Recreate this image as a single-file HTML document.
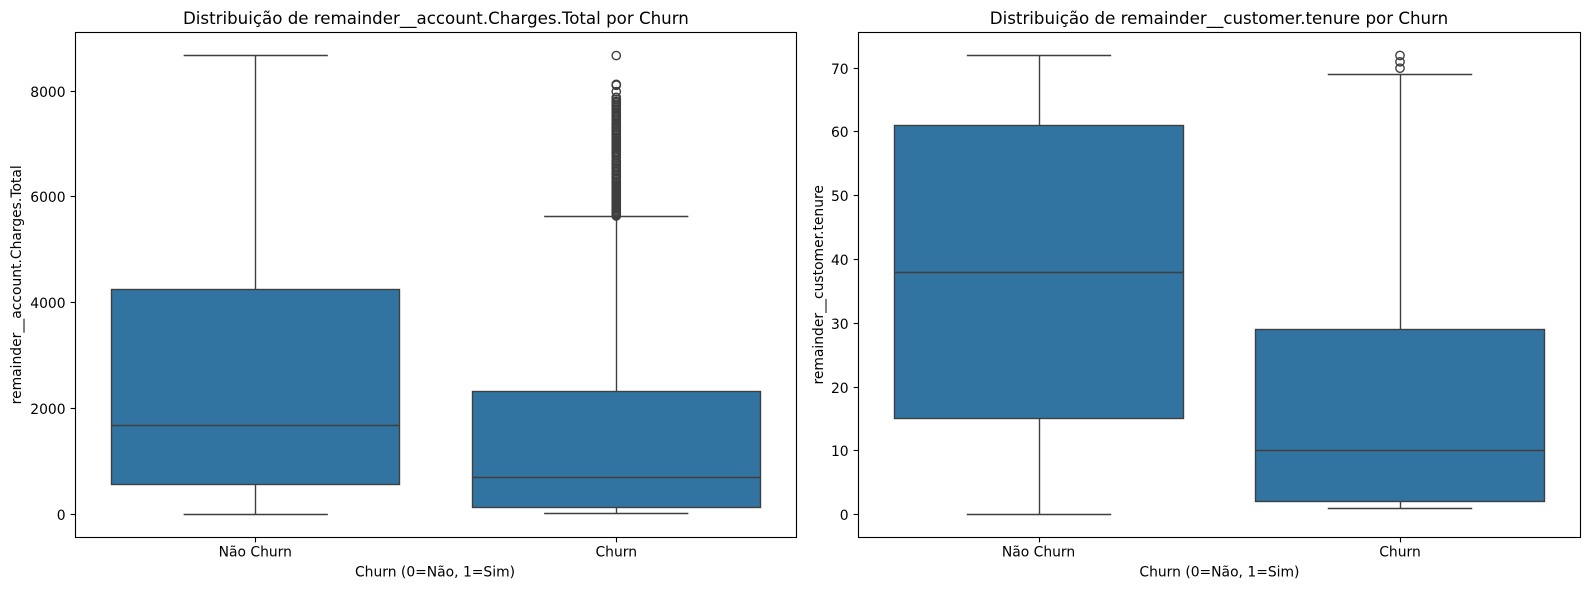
<!DOCTYPE html>
<html lang="pt">
<head>
<meta charset="utf-8">
<title>Distribuição por Churn</title>
<style>
html,body{margin:0;padding:0;background:#fff;width:1590px;height:590px;overflow:hidden}
svg{display:block}
text{font-family:"DejaVu Sans",sans-serif;fill:#000}
.tick{font-size:13.89px}
.label{font-size:13.89px}
.title{font-size:16.67px}
</style>
</head>
<body>
<svg id="figure" xmlns="http://www.w3.org/2000/svg" width="1590" height="590" viewBox="0 0 1590 590">
  <rect x="0" y="0" width="1590" height="590" fill="#fff"/>
  <g id="charges-plot"></g>
  <g id="tenure-plot"></g>
  <text class="title" x="435.9" y="24" text-anchor="middle">Distribuição de remainder__account.Charges.Total por Churn</text>
  <text class="title" x="1219" y="24" text-anchor="middle">Distribuição de remainder__customer.tenure por Churn</text>
  <text class="label" x="435" y="576.5" text-anchor="middle">Churn (0=Não, 1=Sim)</text>
  <text class="label" x="1219.4" y="576.5" text-anchor="middle">Churn (0=Não, 1=Sim)</text>
  <text class="label" transform="translate(21 284.8) rotate(-90)" text-anchor="middle">remainder__account.Charges.Total</text>
  <text class="label" transform="translate(823 284.8) rotate(-90)" text-anchor="middle">remainder__customer.tenure</text>
</svg>
<script>
const categories = ['Não Churn', 'Churn'];

const chargesTicks = [0, 2000, 4000, 6000, 8000];
const chargesDomain = [-433.6, 9105.6];
const chargesWhiskerLow = [0, 19];
const chargesQ1 = [567, 134];
const chargesMedian = [1682, 704];
const chargesQ3 = [4253, 2331];
const chargesWhiskerHigh = [8672, 5624];
const chargesFliersNoChurn = [];
const chargesFliersChurn = [
  8670, 8127, 8109, 7990, 7880, 7846, 7806, 7782, 7750, 7723, 7691, 7662, 7627, 7594, 7556, 7532,
  7502, 7470, 7444, 7413, 7382, 7355, 7330, 7299, 7268, 7241, 7212, 7179, 7154, 7118, 7089, 7061,
  7032, 7002, 6979, 6953, 6921, 6894, 6862, 6841, 6810, 6782, 6745, 6689, 6661, 6632, 6604, 6571,
  6546, 6512, 6483, 6449, 6420, 6392, 6361, 6333, 6301, 6275, 6248, 6219, 6188, 6161, 6130, 6104,
  6075, 6048, 6019, 5991, 5964, 5938, 5911, 5884, 5858, 5829, 5802, 5778, 5752, 5727, 5703, 5680,
  5660, 5640
];

const tenureTicks = [0, 10, 20, 30, 40, 50, 60, 70];
const tenureDomain = [-3.6, 75.6];
const tenureWhiskerLow = [0, 1];
const tenureQ1 = [15, 2];
const tenureMedian = [38, 10];
const tenureQ3 = [61, 29];
const tenureWhiskerHigh = [72, 69];
const tenureFliersNoChurn = [];
const tenureFliersChurn = [70, 71, 72];

const NS = 'http://www.w3.org/2000/svg';
const BOX_FILL = '#3274a1';
const LINE = '#3f3f3f';
const LW = 1.39;

function snap(v) { return Math.round(v - 0.5) + 0.5; }

function make(parent, tag, attrs) {
  const el = document.createElementNS(NS, tag);
  for (const k in attrs) el.setAttribute(k, attrs[k]);
  parent.appendChild(el);
  return el;
}

function xScale(frame, pos) {
  return frame.left + (pos + 0.5) / 2 * (frame.right - frame.left);
}

function yScale(frame, domain, v) {
  return frame.bottom - (v - domain[0]) / (domain[1] - domain[0]) * (frame.bottom - frame.top);
}

function drawPanel(root, frame, domain, ticks, low, q1, med, q3, high, fliers, prefix) {
  const y = function (v) { return snap(yScale(frame, domain, v)); };
  const x = function (p) { return xScale(frame, p); };
  const halfBox = 0.4 * (frame.right - frame.left) / 2;
  const halfCap = 0.2 * (frame.right - frame.left) / 2;

  categories.forEach(function (cat, i) {
    const cx = snap(x(i));
    const lineStyle = { stroke: LINE, 'stroke-width': LW, fill: 'none' };

    const whiskerLow = make(root, 'line', Object.assign({ x1: cx, x2: cx, y1: y(q1[i]), y2: y(low[i]) }, lineStyle));
    
    

    const whiskerHigh = make(root, 'line', Object.assign({ x1: cx, x2: cx, y1: y(q3[i]), y2: y(high[i]) }, lineStyle));
    
    

    const capLow = make(root, 'line', Object.assign({ x1: x(i) - halfCap, x2: x(i) + halfCap, y1: y(low[i]), y2: y(low[i]) }, lineStyle));
    
    

    const capHigh = make(root, 'line', Object.assign({ x1: x(i) - halfCap, x2: x(i) + halfCap, y1: y(high[i]), y2: y(high[i]) }, lineStyle));
    
    

    const bx = snap(x(i) - halfBox);
    const bw = snap(x(i) + halfBox) - bx;
    const box = make(root, 'rect', { x: bx, y: y(q3[i]), width: bw, height: y(q1[i]) - y(q3[i]), fill: BOX_FILL, stroke: LINE, 'stroke-width': LW });
    
    

    const median = make(root, 'line', Object.assign({ x1: bx, x2: bx + bw, y1: y(med[i]), y2: y(med[i]) }, lineStyle));
    
    

    fliers[i].forEach(function (v) {
      const c = make(root, 'circle', { cx: x(i), cy: yScale(frame, domain, v), r: 4.17, fill: 'none', stroke: LINE, 'stroke-width': LW });
      
      
    });

    const tx = snap(x(i));
    const tick = make(root, 'line', { x1: tx, x2: tx, y1: frame.bottom, y2: frame.bottom + 4.86, stroke: '#000', 'stroke-width': 1.11 });
    
    

    const lbl = make(root, 'text', { class: 'tick', x: x(i) - (i === 0 ? 0.5 : 0), y: 556.6, 'text-anchor': 'middle' });
    lbl.textContent = cat;
    
    
  });

  ticks.forEach(function (t) {
    const ty = y(t);
    const tick = make(root, 'line', { x1: frame.left - 4.86, x2: frame.left, y1: ty, y2: ty, stroke: '#000', 'stroke-width': 1.11 });
    
    

    const lbl = make(root, 'text', { class: 'tick', x: frame.left - 9.9, y: ty + 5.5, 'text-anchor': 'end' });
    lbl.textContent = String(t);
    
    
  });

  const spine = make(root, 'rect', { x: frame.left, y: frame.top, width: frame.right - frame.left, height: frame.bottom - frame.top, fill: 'none', stroke: '#000', 'stroke-width': 1.11 });
  
  
}

drawPanel(
  document.getElementById('charges-plot'),
  { left: 75.5, right: 796.5, top: 32.5, bottom: 537.5 },
  chargesDomain, chargesTicks, chargesWhiskerLow, chargesQ1, chargesMedian, chargesQ3, chargesWhiskerHigh,
  [chargesFliersNoChurn, chargesFliersChurn], 'charges'
);

drawPanel(
  document.getElementById('tenure-plot'),
  { left: 858.5, right: 1580.5, top: 32.5, bottom: 537.5 },
  tenureDomain, tenureTicks, tenureWhiskerLow, tenureQ1, tenureMedian, tenureQ3, tenureWhiskerHigh,
  [tenureFliersNoChurn, tenureFliersChurn], 'tenure'
);
</script>
</body>
</html>
